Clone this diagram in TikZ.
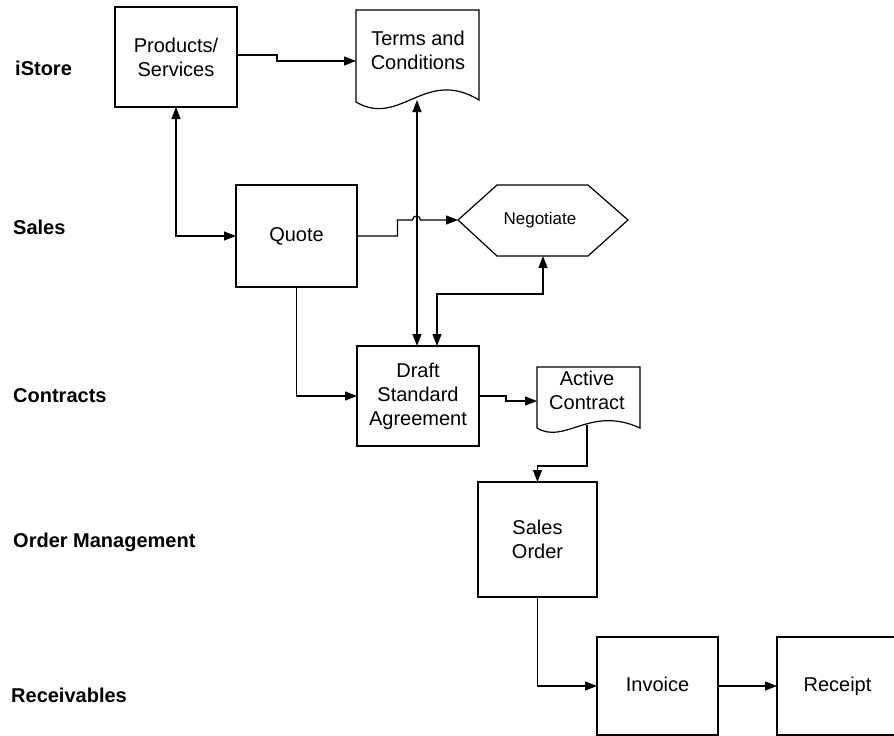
\documentclass[tikz,border=0pt]{standalone}
\usepackage{fontspec}
\setmainfont{Liberation Sans}
\usetikzlibrary{arrows.meta}
\begin{document}
\begin{tikzpicture}[x=1pt,y=-1pt,
  box/.style={draw, line width=1.2pt, inner sep=0pt, outer sep=0pt, align=center,
    font=\fontsize{20}{24}\selectfont},
  doc/.style={line width=1.2pt},
  lane/.style={anchor=west, inner sep=0pt, font=\bfseries\fontsize{20}{24}\selectfont},
  conn/.style={line width=1.2pt, -{Triangle[length=12pt,width=9pt]}},
  both/.style={line width=1.2pt, {Triangle[length=12pt,width=9pt]}-{Triangle[length=12pt,width=9pt]}}]
\useasboundingbox (0,0) rectangle (894,736);
% lanes
\node[lane] (l1) at (15,68) {iStore};
\node[lane] (l2) at (13,227) {Sales};
\node[lane] (l3) at (13,396) {Contracts};
\node[lane] (l4) at (13,542) {Order Management};
\node[lane] (l5) at (11,695) {Receivables};
% boxes
\node[box, minimum width=122pt, minimum height=100pt] (prod) at (176,57) {Products/\\Services};
\node[box, minimum width=121pt, minimum height=102pt] (quote) at (296.5,236) {Quote};
\node[box, minimum width=122pt, minimum height=100pt] (draft) at (418,396) {Draft\\Standard\\Agreement};
\node[box, minimum width=119pt, minimum height=115pt] (so) at (537.5,539.5) {Sales\\Order};
\node[box, minimum width=121pt, minimum height=98pt] (inv) at (657.5,686) {Invoice\vphantom{p}};
\node[box, minimum width=121pt, minimum height=98pt] (rec) at (837.5,686) {Receipt};
% documents
\node[box, draw=none] (terms) at (418,50) {Terms and\\Conditions};
\draw[doc] (356,102) -- (356,10) -- (479,10) -- (479,100) .. controls (425,67) and (400,128) .. (356,102) -- cycle;
\coordinate (termsL) at (356,61);
\coordinate (termsB) at (417,100);
\node[box, draw=none] (active) at (587,390) {Active\\Contract};
\draw[doc] (537,428) -- (537,367) -- (640,367) -- (640,428) .. controls (590,405) and (565,445) .. (537,428) -- cycle;
\coordinate (activeL) at (537,401);
\coordinate (activeB) at (587,425);
% negotiate
\node[inner sep=0pt, font=\fontsize{17}{20}\selectfont] (neg) at (540,220) {Negotiate};
\draw[doc] (458,220) -- (497,185) -- (588,185) -- (628,220) -- (588,256) -- (497,256) -- cycle;
\coordinate (negL) at (458,220);
\coordinate (negB) at (543,256);
% connectors
\draw[conn] ([yshift=2pt]prod.east) -- ++(40,0) -- ++(0,6) -- (termsL);
\draw[both] (prod.south) |- (quote.west);
\draw[conn] (quote.east) -- ++(40.5,0) -- ++(0,-16) -- (412.5,220) arc (180:360:4) -- (negL);
\draw[both] (termsB) -- (termsB |- draft.north);
\draw[both] (negB) -- ++(0,38) -| ([xshift=19pt]draft.north);
\draw[conn] (quote.south) |- (draft.west);
\draw[conn] (draft.east) -- ++(27,0) -- ++(0,5) -- (activeL);
\draw[conn] (activeB) -- ++(0,41) -| (so.north);
\draw[conn] (so.south) |- (inv.west);
\draw[conn] (inv.east) -- (rec.west);
\end{tikzpicture}
\end{document}
